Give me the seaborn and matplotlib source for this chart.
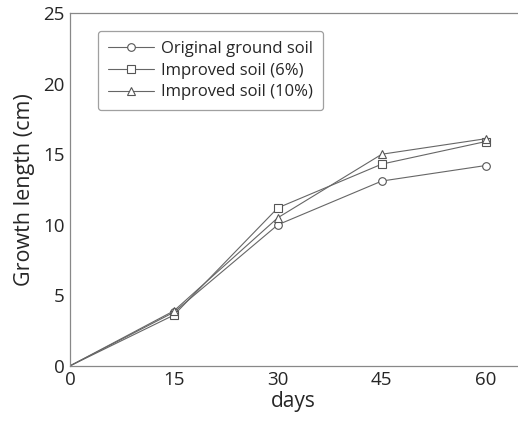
import matplotlib
matplotlib.use("Agg")
import matplotlib.pyplot as plt
import seaborn as sns
import pandas as pd

days = [0, 15, 30, 45, 60]
original = [0, 3.8, 10.0, 13.1, 14.2]
improved6 = [0, 3.6, 11.2, 14.3, 15.9]
improved10 = [0, 3.9, 10.5, 15.0, 16.1]
labels = ["Original ground soil", "Improved soil (6%)", "Improved soil (10%)"]
markers = ["o", "s", "^"]

sns.set_style("white")
plt.rcParams['font.family'] = ['Open Sans', 'DejaVu Sans']

df = pd.DataFrame({
    "days": days * 3,
    "value": original + improved6 + improved10,
    "series": [labels[0]] * 5 + [labels[1]] * 5 + [labels[2]] * 5,
})

fig = plt.figure(figsize=(5.18, 4.23), dpi=100)
ax = fig.add_axes([0.135, 0.135, 0.863, 0.834])
for lab, mk in zip(labels, markers):
    sub = df[df.series == lab]
    sns.lineplot(data=sub, x="days", y="value", ax=ax, color="#666666", lw=0.8,
                 marker=mk, markersize=5.5, markerfacecolor="white",
                 markeredgecolor="#555555", markeredgewidth=0.8, label=lab,
                 markevery=[1, 2, 3, 4])

ax.set_xlim(0, 64.5)
ax.set_ylim(0, 25)
ax.set_xticks([0, 15, 30, 45, 60])
ax.set_yticks([0, 5, 10, 15, 20, 25])
ax.tick_params(direction="in", length=7, width=0.8, color="#777777", labelsize=13.5, pad=4)
for s in ["left", "bottom", "top"]:
    ax.spines[s].set_color("#888888")
    ax.spines[s].set_linewidth(0.9)
ax.spines["right"].set_visible(False)
ax.set_xlabel("days", fontsize=15, labelpad=1)
ax.set_ylabel("Growth length (cm)", fontsize=15.5, labelpad=6)

leg = ax.legend(loc="upper left", bbox_to_anchor=(0.062, 0.95), fontsize=12,
                frameon=True, fancybox=True, edgecolor="#888888",
                handlelength=2.8, handletextpad=0.4, labelspacing=0.35,
                borderpad=0.6, borderaxespad=0)
leg.get_frame().set_linewidth(0.9)
for h in leg.legend_handles:
    h.set_markevery([1])

fig.savefig("out.png", dpi=100)
